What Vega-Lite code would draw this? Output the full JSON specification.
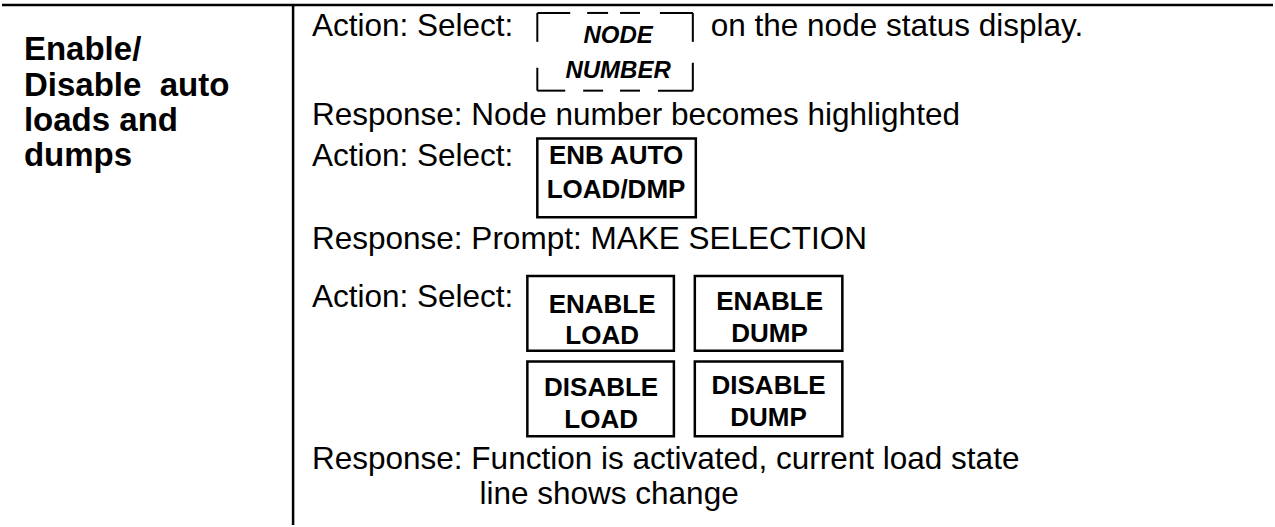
{
  "$schema": "https://vega.github.io/schema/vega-lite/v6.json",
  "autosize": {"type": "fit", "contains": "padding"},
  "width": 1275,
  "height": 527,
  "padding": 0,
  "background": "white",
  "config": {"view": {"stroke": null}},
  "datasets": {
    "rules": [
      {"x": 0, "x2": 1275, "y": 5, "y2": 5},
      {"x": 292, "x2": 292, "y": 5, "y2": 527}
    ],
    "dashes": [
      {"x": 537, "x2": 570, "y": 13, "y2": 13},
      {"x": 587, "x2": 608, "y": 13, "y2": 13},
      {"x": 620, "x2": 640, "y": 13, "y2": 13},
      {"x": 660, "x2": 693, "y": 13, "y2": 13},
      {"x": 537, "x2": 565, "y": 91, "y2": 91},
      {"x": 583, "x2": 603, "y": 91, "y2": 91},
      {"x": 620, "x2": 640, "y": 91, "y2": 91},
      {"x": 658, "x2": 693, "y": 91, "y2": 91},
      {"x": 537, "x2": 537, "y": 13, "y2": 42},
      {"x": 537, "x2": 537, "y": 68, "y2": 91},
      {"x": 693, "x2": 693, "y": 13, "y2": 42},
      {"x": 693, "x2": 693, "y": 63, "y2": 91}
    ],
    "boxes": [
      {"x": 537, "x2": 696, "y": 139, "y2": 218},
      {"x": 527, "x2": 674, "y": 277, "y2": 352},
      {"x": 695, "x2": 843, "y": 277, "y2": 352},
      {"x": 527, "x2": 674, "y": 363, "y2": 438},
      {"x": 695, "x2": 843, "y": 363, "y2": 438}
    ],
    "body": [
      {"x": 311, "y": 36, "t": "Action: Select:"},
      {"x": 711, "y": 36, "t": "on the node status display."},
      {"x": 311, "y": 125, "t": "Response: Node number becomes highlighted"},
      {"x": 311, "y": 167, "t": "Action: Select:"},
      {"x": 311, "y": 250, "t": "Response: Prompt: MAKE SELECTION"},
      {"x": 311, "y": 308, "t": "Action: Select:"},
      {"x": 311, "y": 471, "t": "Response: Function is activated, current load state"},
      {"x": 479, "y": 506, "t": "line shows change"}
    ],
    "title": [
      {"x": 22, "y": 60, "t": "Enable/"},
      {"x": 22, "y": 96, "t": "Disable\u00a0 auto"},
      {"x": 22, "y": 132, "t": "loads and"},
      {"x": 22, "y": 167, "t": "dumps"}
    ],
    "node": [
      {"x": 618, "y": 43, "t": "NODE"},
      {"x": 618, "y": 78, "t": "NUMBER"}
    ],
    "buttons": [
      {"x": 616, "y": 165, "t": "ENB AUTO"},
      {"x": 616, "y": 199, "t": "LOAD/DMP"},
      {"x": 602, "y": 314, "t": "ENABLE"},
      {"x": 602, "y": 345, "t": "LOAD"},
      {"x": 770, "y": 311, "t": "ENABLE"},
      {"x": 770, "y": 343, "t": "DUMP"},
      {"x": 601, "y": 398, "t": "DISABLE"},
      {"x": 601, "y": 430, "t": "LOAD"},
      {"x": 769, "y": 395, "t": "DISABLE"},
      {"x": 769, "y": 428, "t": "DUMP"}
    ]
  },
  "layer": [
    {
      "data": {"name": "rules"},
      "mark": {"type": "rule", "color": "black", "strokeWidth": 2.5},
      "encoding": {
        "x": {"field": "x", "type": "quantitative", "scale": {"domain": [0, 1275], "nice": false, "zero": false}, "axis": null},
        "x2": {"field": "x2"},
        "y": {"field": "y", "type": "quantitative", "scale": {"domain": [0, 527], "nice": false, "zero": false, "reverse": true}, "axis": null},
        "y2": {"field": "y2"}
      }
    },
    {
      "data": {"name": "dashes"},
      "mark": {"type": "rule", "color": "black", "strokeWidth": 2},
      "encoding": {
        "x": {"field": "x", "type": "quantitative"},
        "x2": {"field": "x2"},
        "y": {"field": "y", "type": "quantitative"},
        "y2": {"field": "y2"}
      }
    },
    {
      "data": {"name": "boxes"},
      "mark": {"type": "rect", "fill": "white", "stroke": "black", "strokeWidth": 2.5},
      "encoding": {
        "x": {"field": "x", "type": "quantitative"},
        "x2": {"field": "x2"},
        "y": {"field": "y", "type": "quantitative"},
        "y2": {"field": "y2"}
      }
    },
    {
      "data": {"name": "body"},
      "mark": {"type": "text", "align": "left", "baseline": "alphabetic", "font": "Liberation Sans", "fontSize": 31.5, "color": "black"},
      "encoding": {
        "x": {"field": "x", "type": "quantitative"},
        "y": {"field": "y", "type": "quantitative"},
        "text": {"field": "t"}
      }
    },
    {
      "data": {"name": "title"},
      "mark": {"type": "text", "align": "left", "baseline": "alphabetic", "font": "Liberation Sans", "fontSize": 33, "fontWeight": "bold", "color": "black"},
      "encoding": {
        "x": {"field": "x", "type": "quantitative"},
        "y": {"field": "y", "type": "quantitative"},
        "text": {"field": "t"}
      }
    },
    {
      "data": {"name": "node"},
      "mark": {"type": "text", "align": "center", "baseline": "alphabetic", "font": "Liberation Sans", "fontSize": 24, "fontWeight": "bold", "fontStyle": "italic", "color": "black"},
      "encoding": {
        "x": {"field": "x", "type": "quantitative"},
        "y": {"field": "y", "type": "quantitative"},
        "text": {"field": "t"}
      }
    },
    {
      "data": {"name": "buttons"},
      "mark": {"type": "text", "align": "center", "baseline": "alphabetic", "font": "Liberation Sans", "fontSize": 26, "fontWeight": "bold", "color": "black"},
      "encoding": {
        "x": {"field": "x", "type": "quantitative"},
        "y": {"field": "y", "type": "quantitative"},
        "text": {"field": "t"}
      }
    }
  ]
}
